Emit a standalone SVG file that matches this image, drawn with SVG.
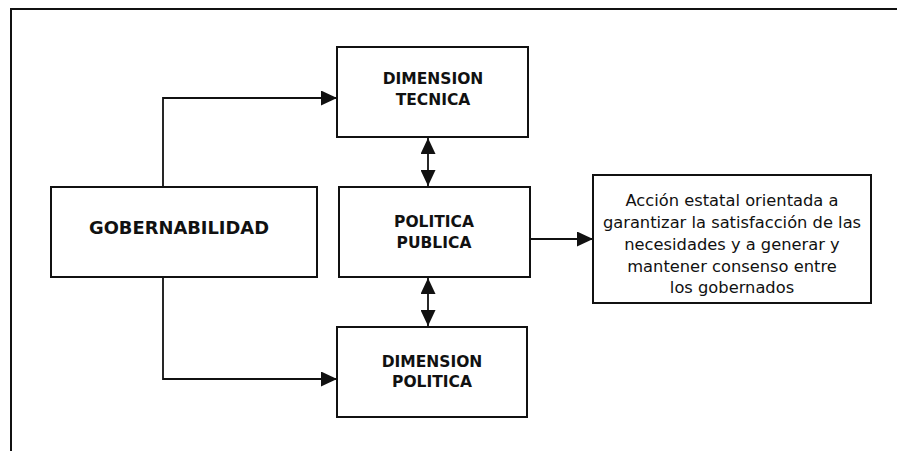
<svg xmlns="http://www.w3.org/2000/svg" width="897" height="451" viewBox="0 0 897 451">
<style>
.box{fill:#fff;stroke:#111;stroke-width:2}
.frame{fill:none;stroke:#111;stroke-width:2}
.lbl{font-family:"DejaVu Sans",Verdana,sans-serif;font-weight:bold;font-size:15.5px;fill:#111;text-anchor:middle}
.big{font-size:18.5px}
.desc{font-family:"DejaVu Sans",Tahoma,sans-serif;font-size:16.3px;fill:#111;text-anchor:middle}
.line{fill:none;stroke:#111;stroke-width:1.8}
</style>
<defs>
<marker id="ah" viewBox="0 0 10 10" refX="10" refY="5" markerWidth="16" markerHeight="15" markerUnits="userSpaceOnUse" orient="auto-start-reverse" preserveAspectRatio="none">
<path d="M0,0 L10,5 L0,10 Z" fill="#111"/>
</marker>
</defs>
<path class="frame" d="M11,451 V9 H897"/>
<g id="connectors">
<path class="line" d="M163,187 V98 H337" marker-end="url(#ah)"/>
<path class="line" d="M163,277 V379 H337" marker-end="url(#ah)"/>
<path class="line" d="M428,138 V186" marker-start="url(#ah)" marker-end="url(#ah)"/>
<path class="line" d="M428,278 V326" marker-start="url(#ah)" marker-end="url(#ah)"/>
<path class="line" d="M530,239 H593" marker-end="url(#ah)"/>
</g>
<g id="gobernabilidad">
<rect class="box" x="51" y="187" width="266" height="90"/>
<text class="lbl big" x="179" y="234" textLength="180" lengthAdjust="spacingAndGlyphs">GOBERNABILIDAD</text>
</g>
<g id="dimension-tecnica">
<rect class="box" x="337" y="47" width="191" height="90"/>
<text class="lbl" x="433" y="84">DIMENSION</text>
<text class="lbl" x="433" y="105">TECNICA</text>
</g>
<g id="politica-publica">
<rect class="box" x="339" y="187" width="191" height="90"/>
<text class="lbl" x="434" y="227">POLITICA</text>
<text class="lbl" x="434" y="248">PUBLICA</text>
</g>
<g id="dimension-politica">
<rect class="box" x="337" y="327" width="190" height="90"/>
<text class="lbl" x="432" y="367">DIMENSION</text>
<text class="lbl" x="432" y="387">POLITICA</text>
</g>
<g id="accion-estatal">
<rect class="box" x="593" y="175" width="278" height="128"/>
<text class="desc" x="732" y="206">Acción estatal orientada a</text>
<text class="desc" x="732" y="228">garantizar la satisfacción de las</text>
<text class="desc" x="732" y="250">necesidades y a generar y</text>
<text class="desc" x="732" y="272">mantener consenso entre</text>
<text class="desc" x="732" y="293">los gobernados</text>
</g>
</svg>
